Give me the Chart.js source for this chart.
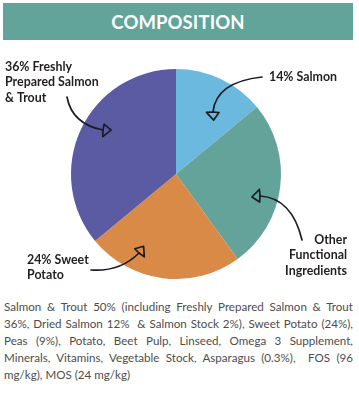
<!DOCTYPE html>
<html>
<head>
<meta charset="utf-8">
<script src="https://cdn.jsdelivr.net/npm/chart.js@4"></script>
<style>
  body { margin: 0; width: 359px; height: 395px; background: #fff; position: relative; overflow: hidden; font-family: Lato, sans-serif; }
  #header { position: absolute; left: 3px; top: 3px; width: 350px; height: 37px; background: #62a39a; color: #fff;
    font: 700 18.5px Lato, sans-serif; letter-spacing: 0.1px; text-align: center; line-height: 38px; }
  #wrap { position: absolute; left: 0; top: 45px; width: 359px; height: 250px; }
  #desc { position: absolute; left: 4px; top: 298px; width: 349px; font: 400 11.6px Lato, sans-serif; color: #4d4d4d; line-height: 17px; }
  #desc div { text-align: justify; text-align-last: justify; white-space: nowrap; }
  #desc div.last { text-align-last: left; }
</style>
</head>
<body>
<div id="header">COMPOSITION</div>
<div id="wrap"><canvas id="pie"></canvas></div>
<div id="desc">
  <div>Salmon &amp; Trout 50% (including Freshly Prepared Salmon &amp; Trout</div>
  <div>36%, Dried Salmon 12%&nbsp; &amp; Salmon Stock 2%), Sweet Potato (24%),</div>
  <div>Peas (9%), Potato, Beet Pulp, Linseed, Omega 3 Supplement,</div>
  <div>Minerals, Vitamins, Vegetable Stock, Asparagus (0.3%),&nbsp; FOS (96</div>
  <div class="last">mg/kg), MOS (24 mg/kg)</div>
</div>
<script>
const categories = ['Salmon', 'Other Functional Ingredients', 'Sweet Potato', 'Freshly Prepared Salmon & Trout'];
const shares = [14, 26, 24, 36];
const sliceColors = ['#6bb9df', '#63a39a', '#d98a47', '#5b5ba4'];
const labelLines = [
  ['14% Salmon'],
  ['Other', 'Functional', 'Ingredients'],
  ['24% Sweet', 'Potato'],
  ['36% Freshly', 'Prepared Salmon', '& Trout']
];

// where each callout sits, as offsets from the pie centre
const callouts = [
  { x: 93, y: -97, align: 'left', from: [86, -97], ctrl: [40, -92], to: [37, -62] },
  { x: 171, y: 66, align: 'right', from: [126, 66], ctrl: [116, 24], to: [84, 22] },
  { x: -149, y: 86, align: 'left', from: [-85, 96], ctrl: [-56, 98], to: [-37, 79] },
  { x: -171, y: -107, align: 'left', from: [-109, -77], ctrl: [-104, -50], to: [-73, -44] }
];

const calloutPlugin = {
  id: 'callouts',
  afterDraw(chart) {
    const ctx = chart.ctx;
    const arc = chart.getDatasetMeta(0).data[0];
    const cx = arc.x, cy = arc.y;
    ctx.save();
    ctx.fillStyle = '#231f20';
    ctx.strokeStyle = '#1c1c24';
    ctx.lineWidth = 1.7;
    ctx.lineCap = 'round';
    ctx.lineJoin = 'round';
    ctx.font = '700 12.4px Lato, sans-serif';
    ctx.textBaseline = 'middle';
    callouts.forEach((c, i) => {
      ctx.textAlign = c.align;
      labelLines[i].forEach((line, j) => {
        ctx.fillText(line, cx + c.x, cy + c.y + j * 15.3);
      });
      const sx = cx + c.from[0], sy = cy + c.from[1];
      const qx = cx + c.ctrl[0], qy = cy + c.ctrl[1];
      const ex = cx + c.to[0], ey = cy + c.to[1];
      ctx.beginPath();
      ctx.moveTo(sx, sy);
      ctx.quadraticCurveTo(qx, qy, ex, ey);
      ctx.stroke();
      // little looped arrow head
      let dx = ex - qx, dy = ey - qy;
      const len = Math.hypot(dx, dy);
      dx /= len; dy /= len;
      const nx = -dy, ny = dx;
      ctx.beginPath();
      ctx.moveTo(ex, ey);
      ctx.lineTo(ex + nx * 6.5 + dx * 1, ey + ny * 6.5 + dy * 1);
      ctx.lineTo(ex + dx * 8 - nx * 1.5, ey + dy * 8 - ny * 1.5);
      ctx.lineTo(ex - nx * 6, ey - ny * 6);
      ctx.closePath();
      ctx.stroke();
    });
    ctx.restore();
  }
};

new Chart(document.getElementById('pie'), {
  type: 'pie',
  data: {
    labels: categories,
    datasets: [{ data: shares, backgroundColor: sliceColors, borderWidth: 0 }]
  },
  options: {
    responsive: true,
    maintainAspectRatio: false,
    animation: false,
    layout: { padding: { top: 24, bottom: 16, left: 71, right: 78 } },
    plugins: { legend: { display: false }, tooltip: { enabled: false } }
  },
  plugins: [calloutPlugin]
});
</script>
</body>
</html>
